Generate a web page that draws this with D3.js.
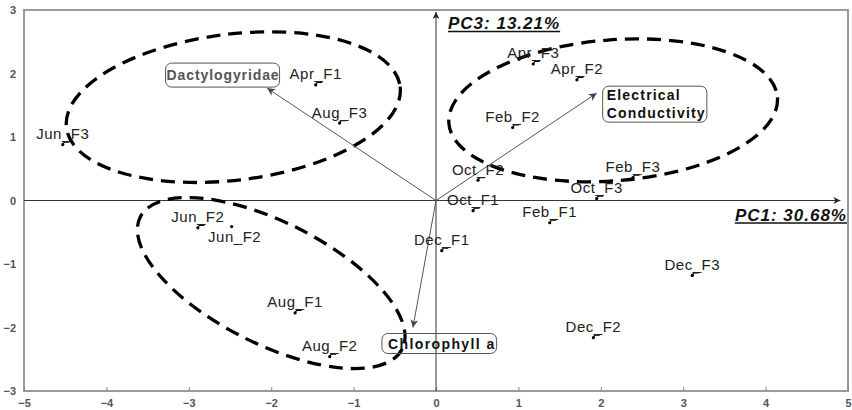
<!DOCTYPE html>
<html>
<head>
<meta charset="utf-8">
<script src="https://cdn.jsdelivr.net/npm/d3@7"></script>
<style>
  html, body { margin: 0; padding: 0; background: #fff; }
  svg { display: block; font-family: "Liberation Sans", Arial, sans-serif; }
</style>
</head>
<body>
<svg id="chart" width="852" height="410"></svg>
<script>
// ---- data ----
const samples = ["Jun_F3","Apr_F1","Aug_F3","Apr_F3","Apr_F2","Feb_F2","Oct_F2","Feb_F3","Oct_F3",
                 "Oct_F1","Feb_F1","Dec_F1","Dec_F3","Dec_F2","Jun_F2","Jun_F2","Aug_F1","Aug_F2"];
const pc1 = [-4.53,-1.46,-1.17,1.18,1.71,0.93,0.51,2.39,1.95,0.45,1.38,0.07,3.11,1.91,-2.89,-2.48,-1.71,-1.29];
const pc3 = [0.88,1.82,1.22,2.15,1.90,1.15,0.32,0.36,0.03,-0.16,-0.35,-0.79,-1.18,-2.16,-0.43,-0.41,-1.77,-2.46];

const variables = ["Dactylogyridae", "Electrical Conductivity", "Chlorophyll a"];
const varPC1 = [-2.05, 1.95, -0.28];
const varPC3 = [1.77, 1.69, -2.00];

const xTicks = [-5,-4,-3,-2,-1,0,1,2,3,4,5];
const yTicks = [-3,-2,-1,0,1,2,3];
const axisTitles = ["PC1: 30.68%", "PC3: 13.21%"];

// group ellipses: centre (PC1, PC3), radii in PC1 / PC3 units, tilt in degrees
const groupCx = [-2.46, 2.15, -2.00];
const groupCy = [1.47, 1.42, -1.30];
const groupRx = [2.04, 2.00, 1.78];
const groupRy = [1.15, 1.11, 0.96];
const groupTilt = [-7, -4.5, 26.7];

// ---- layout ----
const svg = d3.select("#chart");
const x = d3.scaleLinear().domain([-5, 5]).range([24, 848]);
const y = d3.scaleLinear().domain([-3, 3]).range([391, 10]);
const ux = x(1) - x(0), uy = y(0) - y(1);

const defs = svg.append("defs");
function marker(id, color, w, h) {
  defs.append("marker").attr("id", id).attr("viewBox", "0 0 10 10")
    .attr("refX", 10).attr("refY", 5).attr("markerWidth", w).attr("markerHeight", h)
    .attr("markerUnits", "userSpaceOnUse").attr("orient", "auto")
    .append("path").attr("d", "M0,0 L10,5 L0,10 L3,5 Z").attr("fill", color);
}
marker("axArrow", "#222", 9, 7);
marker("vecArrow", "#444", 10, 8);

// frame
svg.append("rect").attr("x", x(-5)).attr("y", y(3))
  .attr("width", x(5) - x(-5)).attr("height", y(-3) - y(3))
  .attr("fill", "none").attr("stroke", "#999").attr("stroke-width", 2);

// axes tick labels
const gx = svg.append("g").attr("transform", `translate(0,${y(-3)})`)
  .call(d3.axisBottom(x).tickValues(xTicks).tickSize(-4).tickPadding(8).tickFormat(d3.format("d")));
const gy = svg.append("g").attr("transform", `translate(${x(-5)},0)`)
  .call(d3.axisLeft(y).tickValues(yTicks).tickSize(0).tickPadding(8).tickFormat(d3.format("d")));
[gx, gy].forEach(g => {
  g.select(".domain").remove();
  g.selectAll("text").attr("fill", "#555").attr("font-size", 11).attr("font-weight", "bold")
    .attr("font-family", "'Liberation Sans', Arial, sans-serif");
  g.selectAll("line").attr("stroke", "#888");
});

// zero axes with arrows
svg.append("line").attr("x1", x(-5)).attr("y1", y(0)).attr("x2", x(4.98) - 6).attr("y2", y(0))
  .attr("stroke", "#333").attr("stroke-width", 1).attr("marker-end", "url(#axArrow)");
svg.append("line").attr("x1", x(0)).attr("y1", y(-3)).attr("x2", x(0)).attr("y2", y(3) + 2)
  .attr("stroke", "#333").attr("stroke-width", 1).attr("marker-end", "url(#axArrow)");

// group ellipses
groupCx.forEach((cx, i) => {
  svg.append("ellipse")
    .attr("transform", `translate(${x(cx)},${y(groupCy[i])}) rotate(${groupTilt[i]})`)
    .attr("rx", groupRx[i] * ux).attr("ry", groupRy[i] * uy)
    .attr("fill", "none").attr("stroke", "#000").attr("stroke-width", 3.3)
    .attr("stroke-dasharray", "14,8");
});

// variable vectors
variables.forEach((v, i) => {
  svg.append("line").attr("x1", x(0)).attr("y1", y(0)).attr("x2", x(varPC1[i])).attr("y2", y(varPC3[i]))
    .attr("stroke", "#555").attr("stroke-width", 1).attr("marker-end", "url(#vecArrow)");
});

// variable labels in rounded boxes
function boxLabel(lines, tx, ty, opts) {
  const g = svg.append("g");
  const t = g.append("text").attr("x", tx).attr("y", ty)
    .attr("font-size", 14).attr("font-weight", "bold").attr("fill", opts.color)
    .attr("letter-spacing", opts.ls).attr("text-anchor", opts.anchor || "start");
  lines.forEach((l, k) => t.append("tspan").attr("x", tx).attr("dy", k === 0 ? 0 : 18).text(l));
  const bb = t.node().getBBox();
  g.insert("rect", "text").attr("x", bb.x - opts.padL).attr("y", bb.y - 1 - opts.padV)
    .attr("width", bb.width + opts.padL + opts.padR).attr("height", bb.height + 2 + 2 * opts.padV)
    .attr("rx", 6).attr("fill", "none").attr("stroke", "#555").attr("stroke-width", 1);
}
boxLabel(["Dactylogyridae"], x(varPC1[0]) - 44, y(varPC3[0]) - 8, {color: "#555", ls: 0.9, padL: 1, padR: 0, padV: 3, anchor: "middle"});
boxLabel(["Electrical", "Conductivity"], x(varPC1[1]) + 10, y(varPC3[1]) + 7, {color: "#111", ls: 1.2, padL: 4, padR: 1, padV: 0});
boxLabel(["Chlorophyll a"], x(varPC1[2]) - 25, y(varPC3[2]) + 21, {color: "#111", ls: 1.4, padL: 6, padR: 1, padV: 1});

// sample points
samples.forEach((s, i) => {
  const px = x(pc1[i]), py = y(pc3[i]);
  const below = (s === "Jun_F2" && i === 15);
  svg.append("circle").attr("cx", px).attr("cy", py).attr("r", 1.6).attr("fill", "#000");
  if (!below) {
    svg.append("path").attr("d", `M${px},${py} l1.5,-2.5 l5,0`).attr("fill", "none")
      .attr("stroke", "#000").attr("stroke-width", 1.2);
  }
  svg.append("text").attr("x", below ? px + 3 : px).attr("y", below ? py + 15 : py - 5.5)
    .attr("text-anchor", "middle").attr("font-size", 15).attr("letter-spacing", 0.5)
    .attr("fill", "#222").text(s);
});

// axis titles (bold italic underlined)
function axisTitle(txt, tx, ty, anchor) {
  const t = svg.append("text").attr("x", tx).attr("y", ty).attr("text-anchor", anchor)
    .attr("font-size", 17).attr("font-weight", "bold").attr("font-style", "italic")
    .attr("letter-spacing", 1).attr("fill", "#111").text(txt);
  const bb = t.node().getBBox();
  svg.append("line").attr("x1", bb.x).attr("x2", bb.x + bb.width).attr("y1", ty + 2.5).attr("y2", ty + 2.5)
    .attr("stroke", "#111").attr("stroke-width", 1.3);
}
axisTitle(axisTitles[0], x(5) - 1, y(0) + 20, "end");
axisTitle(axisTitles[1], x(0) + 12, y(3) + 19, "start");
</script>
</body>
</html>
